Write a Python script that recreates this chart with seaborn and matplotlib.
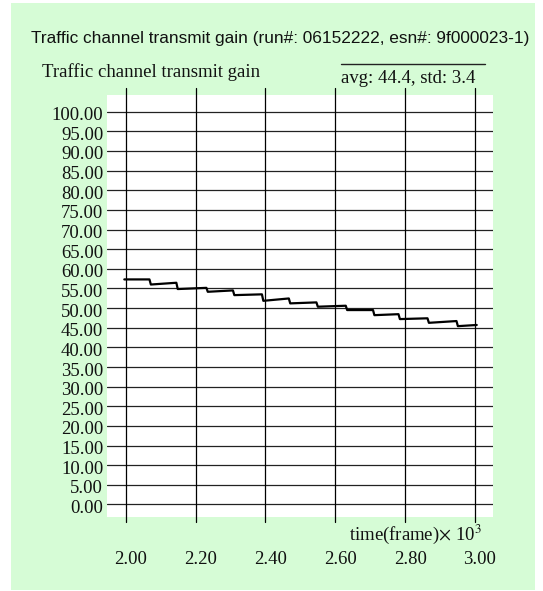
import matplotlib
matplotlib.use("Agg")
import matplotlib.pyplot as plt
from matplotlib.patches import Rectangle
from matplotlib.lines import Line2D
from matplotlib.transforms import ScaledTranslation
import pandas as pd
import seaborn as sns

# Transmit gain trace (dB) against time in thousands of frames: a sawtooth
# that creeps up slightly between power-control steps and then drops.
time_kframe = [1.996, 2.068, 2.072, 2.145, 2.149, 2.231, 2.235, 2.307, 2.311,
               2.390, 2.394, 2.467, 2.471, 2.546, 2.550, 2.630, 2.634, 2.708,
               2.712, 2.781, 2.785, 2.864, 2.868, 2.947, 2.951, 3.005]
gain = [57.3, 57.3, 56.0, 56.45, 54.85, 55.15, 54.15, 54.5, 53.3,
        53.5, 51.85, 52.45, 51.2, 51.45, 50.35, 50.6, 49.5, 49.5,
        48.2, 48.45, 47.2, 47.4, 46.25, 46.7, 45.4, 45.7]

y_ticks = list(range(0, 101, 5))
x_ticks = [2.0, 2.2, 2.4, 2.6, 2.8, 3.0]

title = "Traffic channel transmit gain (run#: 06152222, esn#: 9f000023-1)"
subtitle = "Traffic channel transmit gain"
stats_text = "avg: 44.4, std: 3.4"
x_label = r"time(frame)$\times$ 10$^{3}$"

W, H = 543, 591
sns.set_style("white")
plt.rcParams["font.family"] = ["Liberation Serif", "DejaVu Serif"]
plt.rcParams["mathtext.fontset"] = "stix"

fig = plt.figure(figsize=(W / 100, H / 100), dpi=100)
fig.patch.set_facecolor("white")


def fx(px):
    return px / W


def fy(py):
    return 1 - py / H


# pale green panel behind everything
fig.patches.append(Rectangle((fx(11), fy(590)), fx(535) - fx(11), fy(3) - fy(590),
                             transform=fig.transFigure, facecolor="#d6fcd6",
                             edgecolor="none", zorder=-5))

ax = fig.add_axes([fx(106.7), fy(516.7), fx(493.3) - fx(106.7), fy(95) - fy(516.7)])
ax.set_zorder(2)
ax.set_facecolor("white")
for s in ax.spines.values():
    s.set_visible(False)

df = pd.DataFrame({"t": time_kframe, "gain": gain})
sns.lineplot(data=df, x="t", y="gain", sort=False, estimator=None,
             color="black", lw=1.6, ax=ax, zorder=3)

ax.set_xlim(1.9456, 3.0524)
ax.set_ylim(-3.11, 104.25)
ax.set_yticks(y_ticks)
ax.set_yticklabels([f"{v:.2f}" for v in y_ticks])
ax.set_xticks(x_ticks)
ax.set_xticklabels([f"{v:.2f}" for v in x_ticks])
ax.tick_params(axis="both", length=0, labelsize=13.5, colors="#111111")
ax.tick_params(axis="x", pad=25)
ax.tick_params(axis="y", pad=2.5)
ax.set_xlabel("")
ax.set_ylabel("")
ax.yaxis.grid(True, color="#222222", lw=0.9, zorder=1)
ax.xaxis.grid(False)
ax.set_axisbelow(True)

# vertical lines poke out a little above and below the plotting area
for x in x_ticks:
    ax.axvline(x, ymin=-0.012, ymax=1.017, color="black", lw=0.9,
               clip_on=False, zorder=2)

for lbl in ax.get_xticklabels():
    lbl.set_transform(lbl.get_transform() + ScaledTranslation(5 / 100, 0, fig.dpi_scale_trans))
for lbl in ax.get_yticklabels():
    lbl.set_transform(lbl.get_transform() + ScaledTranslation(0, -2 / 100, fig.dpi_scale_trans))

fig.text(fx(31), fy(43.5), title, family=["Liberation Sans", "DejaVu Sans"],
         fontsize=12.45, va="baseline", ha="left", color="#111111")
fig.text(fx(42), fy(77), subtitle, fontsize=13.5, va="baseline", color="#111111")
fig.text(fx(340.7), fy(83.3), stats_text, fontsize=13.5, va="baseline", color="#111111")
fig.add_artist(Line2D([fx(341), fx(485)], [fy(64), fy(64)], transform=fig.transFigure,
                      color="#222222", lw=1.0))
fig.text(fx(481.7), fy(539.5), x_label, ha="right", va="baseline", fontsize=13.5,
         color="#111111")

fig.savefig("out.png", dpi=100, facecolor=fig.get_facecolor())
